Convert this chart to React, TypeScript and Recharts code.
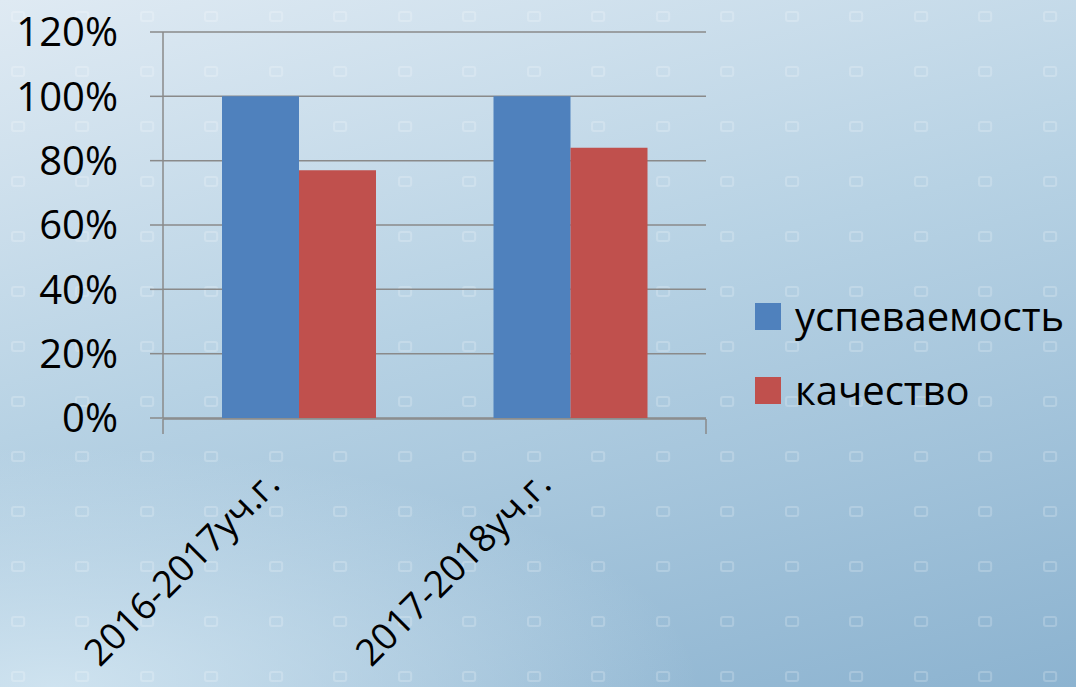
import { Bar, BarChart, CartesianGrid, Legend, XAxis, YAxis } from "recharts";

const categories = ["2016-2017уч.г.", "2017-2018уч.г."];
const uspevaemost = [1.0, 1.0];
const kachestvo = [0.77, 0.84];
const yTicks = [0, 0.2, 0.4, 0.6, 0.8, 1.0, 1.2];
const seriesNames = ["успеваемость", "качество"];

const data = categories.map((name, i) => ({
  name,
  uspevaemost: uspevaemost[i],
  kachestvo: kachestvo[i],
}));

const BLUE = "#4f81bd";
const RED = "#c0504d";
const AXIS = "#8a8a8a";
const FONT = "'Open Sans', 'DejaVu Sans', sans-serif";

const pattern =
  "url(\"data:image/svg+xml;utf8,<svg xmlns='http://www.w3.org/2000/svg' width='64.5' height='55'><rect x='6' y='10' width='12' height='9' rx='2' fill='none' stroke='white' stroke-opacity='0.2' stroke-width='2'/></svg>\")";

function CategoryTick({ x, y, payload }: any) {
  return (
    <g transform={`translate(${x - 17},${y + 68})`}>
      <text textAnchor="end" transform="rotate(-45)" fontSize={37} fill="#000" fontFamily={FONT}>
        {payload.value}
      </text>
    </g>
  );
}

function LegendBox() {
  const colors = [BLUE, RED];
  return (
    <div style={{ fontFamily: FONT }}>
      {seriesNames.map((n, i) => (
        <div key={n} style={{ display: "flex", alignItems: "center", height: 74 }}>
          <span style={{ width: 26, height: 27, background: colors[i], marginRight: 14 }} />
          <span style={{ fontSize: 40, color: "#000", lineHeight: "40px", whiteSpace: "nowrap" }}>{n}</span>
        </div>
      ))}
    </div>
  );
}

export default function App() {
  return (
    <div
      style={{
        position: "fixed",
        left: 0,
        top: 0,
        width: 1076,
        height: 687,
        overflow: "hidden",
        backgroundImage: `${pattern}, radial-gradient(ellipse 60% 35% at 5% 100%, rgba(214,232,243,0.85) 0%, rgba(214,232,243,0) 100%), linear-gradient(165deg, #dfeaf3 0%, #b7d2e4 45%, #8cb3d0 100%)`,
        backgroundPosition: "6px 2px, 0 0, 0 0",
        backgroundRepeat: "repeat, no-repeat, no-repeat",
      }}
    >
      <BarChart
        width={1076}
        height={687}
        data={data}
        margin={{ top: 32, right: 40, bottom: 267, left: 43 }}
        barGap={0}
        barSize={77}
      >
        <CartesianGrid xAxisId="cat" vertical={false} stroke={AXIS} strokeWidth={1.5} />
        <XAxis
          xAxisId="cat"
          dataKey="name"
          height={1}
          axisLine={false}
          tickLine={false}
          tickSize={0}
          tickMargin={0}
          interval={0}
          tick={<CategoryTick />}
        />
        <XAxis
          xAxisId="grid"
          type="number"
          domain={[0, 2]}
          ticks={[0, 1, 2]}
          height={1}
          tick={() => <g />}
          tickSize={15}
          axisLine={{ stroke: AXIS, strokeWidth: 1.5 }}
          tickLine={{ stroke: AXIS, strokeWidth: 1.5 }}
          interval={0}
          allowDataOverflow
        />
        <YAxis
          width={120}
          domain={[0, 1.2]}
          ticks={yTicks}
          tickFormatter={(v: number) => `${Math.round(v * 100)}%`}
          tick={{ fontSize: 40, fill: "#000", fontFamily: FONT }}
          tickSize={13}
          tickMargin={32}
          axisLine={{ stroke: AXIS, strokeWidth: 1.5 }}
          tickLine={{ stroke: AXIS, strokeWidth: 1.5 }}
          interval={0}
        />
        <Legend
          layout="vertical"
          align="right"
          verticalAlign="middle"
          content={<LegendBox />}
          wrapperStyle={{ position: "absolute", left: 755, top: 279, width: 330 }}
        />
        <Bar xAxisId="cat" dataKey="uspevaemost" name={seriesNames[0]} fill={BLUE} isAnimationActive={false} />
        <Bar xAxisId="cat" dataKey="kachestvo" name={seriesNames[1]} fill={RED} isAnimationActive={false} />
      </BarChart>
    </div>
  );
}
